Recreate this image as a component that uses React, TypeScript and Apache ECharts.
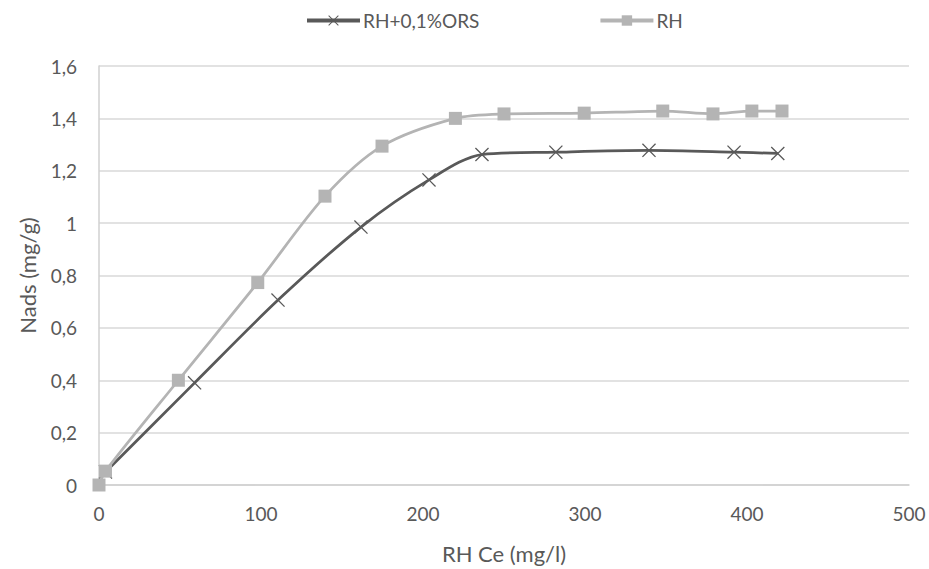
import React, { useEffect, useRef } from "react";
import * as echarts from "echarts";

const orsX = [4, 59, 110.5, 161.7, 203.7, 236.4, 282, 339.5, 392, 419];
const orsY = [0.05, 0.39, 0.706, 0.985, 1.165, 1.262, 1.271, 1.278, 1.271, 1.266];
const rhX = [0, 4, 49, 98, 139.5, 174.7, 220, 250, 299.5, 348, 379, 403, 421.6];
const rhY = [0, 0.053, 0.4, 0.773, 1.103, 1.294, 1.4, 1.417, 1.42, 1.428, 1.417, 1.428, 1.428];
const seriesNames = ["RH+0,1%ORS", "RH"];
const xTitle = "RH Ce (mg/l)";
const yTitle = "Nads (mg/g)";

const crossPath =
  "path://M0,0.65 L0.65,0 L5,4.35 L9.35,0 L10,0.65 L5.65,5 L10,9.35 L9.35,10 L5,5.65 L0.65,10 L0,9.35 L4.35,5 Z";

export default function App() {
  const ref = useRef<HTMLDivElement>(null);
  useEffect(() => {
    if (!ref.current) return;
    const chart = echarts.init(ref.current, undefined, { renderer: "svg" });
    const font = "Lato, 'Noto Sans', sans-serif";
    chart.setOption({
      animation: false,
      textStyle: { fontFamily: font, color: "#595959" },
      legend: {
        top: 6,
        left: 300,
        itemWidth: 53,
        itemHeight: 13,
        itemGap: 119,
        lineStyle: { width: 4 },
        textStyle: { fontSize: 19, color: "#595959", fontFamily: font, padding: [0, 0, 0, -2] },
        data: seriesNames,
      },
      grid: { left: 99, right: 20, top: 66, bottom: 84 },
      xAxis: {
        type: "value",
        min: 0,
        max: 500,
        interval: 100,
        name: xTitle,
        nameLocation: "middle",
        nameGap: 57,
        nameTextStyle: { fontSize: 22, color: "#595959", fontFamily: font },
        axisLine: { show: true, lineStyle: { color: "#d0d0d0", width: 1.5 } },
        axisTick: { show: false },
        axisLabel: { fontSize: 19, color: "#595959", margin: 19, fontFamily: font },
        splitLine: { show: false },
      },
      yAxis: {
        type: "value",
        min: 0,
        max: 1.6,
        interval: 0.2,
        name: yTitle,
        nameLocation: "middle",
        nameGap: 61,
        nameRotate: 90,
        nameTextStyle: { fontSize: 22, color: "#595959", fontFamily: font },
        axisLine: { show: true, lineStyle: { color: "#d0d0d0", width: 1.5 } },
        axisTick: { show: false },
        axisLabel: {
          fontSize: 19,
          color: "#595959",
          margin: 22,
          fontFamily: font,
          formatter: (v: number) => String(+v.toFixed(1)).replace(".", ","),
        },
        splitLine: { show: true, lineStyle: { color: "#d9d9d9", width: 1.5 } },
      },
      series: [
        {
          name: seriesNames[0],
          type: "line",
          smooth: 0.3,
          data: orsX.map((x, i) => [x, orsY[i]]),
          symbol: crossPath,
          symbolSize: 14,
          lineStyle: { color: "#595959", width: 2.75 },
          itemStyle: { color: "#595959" },
          z: 2,
        },
        {
          name: seriesNames[1],
          type: "line",
          smooth: 0.3,
          data: rhX.map((x, i) => [x, rhY[i]]),
          symbol: "rect",
          symbolSize: 13,
          lineStyle: { color: "#b4b4b4", width: 2.75 },
          itemStyle: { color: "#b4b4b4" },
          z: 3,
        },
      ],
    });
    return () => chart.dispose();
  }, []);
  return <div ref={ref} style={{ width: 929, height: 569, position: "absolute", left: 0, top: 0 }} />;
}
